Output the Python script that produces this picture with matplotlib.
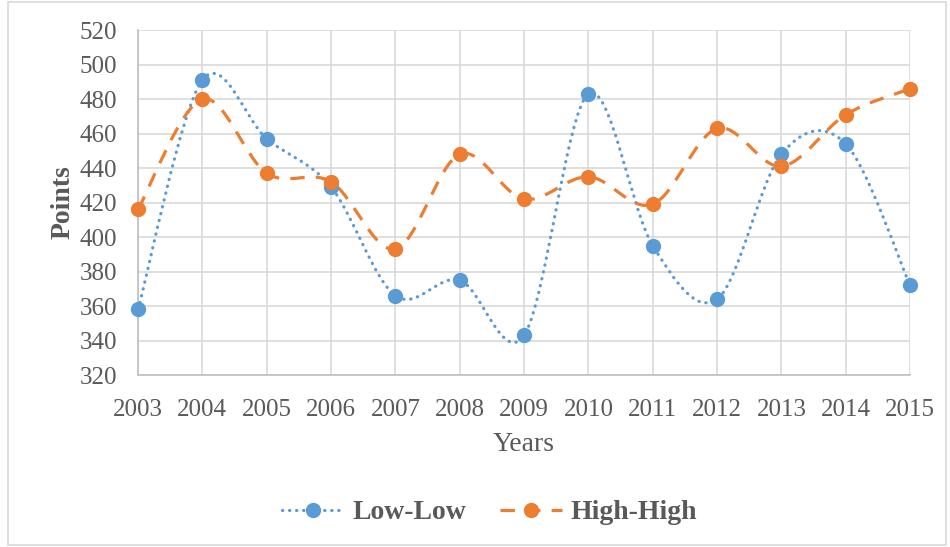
import numpy as np
import matplotlib
matplotlib.use("Agg")
import matplotlib.pyplot as plt
from matplotlib.path import Path
from matplotlib.patches import PathPatch, Rectangle
from matplotlib.lines import Line2D

years = [2003, 2004, 2005, 2006, 2007, 2008, 2009, 2010, 2011, 2012, 2013, 2014, 2015]
low_low = [358, 491, 457, 429, 366, 375, 343, 483, 395, 364, 448, 454, 372]
high_high = [416, 480, 437, 432, 393, 448, 422, 435, 419, 463, 441, 471, 486]

BLUE = "#5B9BD5"
ORANGE = "#ED7D31"
GRAY_TXT = "#595959"

plt.rcParams["font.family"] = ["Liberation Serif", "DejaVu Serif"]


def smooth_path(x, y, k=1 / 6):
    # cubic Bezier through every point, Catmull-Rom style control points
    x = np.asarray(x, float)
    y = np.asarray(y, float)
    n = len(x)
    verts = [(x[0], y[0])]
    codes = [Path.MOVETO]
    for i in range(n - 1):
        p0 = i - 1 if i > 0 else i
        p3 = i + 2 if i + 2 < n else i + 1
        c1 = (x[i] + (x[i + 1] - x[p0]) * k, y[i] + (y[i + 1] - y[p0]) * k)
        c2 = (x[i + 1] - (x[p3] - x[i]) * k, y[i + 1] - (y[p3] - y[i]) * k)
        verts += [c1, c2, (x[i + 1], y[i + 1])]
        codes += [Path.CURVE4] * 3
    return Path(verts, codes)


fig = plt.figure(figsize=(9.5, 5.47), dpi=100)
ax = fig.add_axes([0.1453, 0.3144, 0.8127, 0.6306])

# light border round the whole chart
fig.patches.append(Rectangle((0.008, 0.004), 0.988, 0.992, transform=fig.transFigure,
                             fill=False, edgecolor="#d9d9d9", linewidth=1.2))

ax.set_xlim(years[0], years[-1])
ax.set_ylim(320, 520)
ax.set_xticks(years)
ax.set_yticks(range(320, 521, 20))
ax.grid(True, color="#d9d9d9", linewidth=1.2)
ax.set_axisbelow(True)
for s in ["top", "right"]:
    ax.spines[s].set_visible(False)
for s in ["left", "bottom"]:
    ax.spines[s].set_color("#bfbfbf")
    ax.spines[s].set_linewidth(1.2)
ax.tick_params(length=0, labelsize=18, labelcolor=GRAY_TXT)
ax.tick_params(axis="x", pad=17)
ax.tick_params(axis="y", pad=15)

ax.add_patch(PathPatch(smooth_path(years, low_low), fill=False, edgecolor=BLUE,
                       linewidth=2.3, linestyle=(0, (0.1, 2.1)), capstyle="round",
                       clip_on=False))
ax.add_patch(PathPatch(smooth_path(years, high_high), fill=False, edgecolor=ORANGE,
                       linewidth=2.3, linestyle=(0, (4.5, 3.5)), capstyle="butt",
                       clip_on=False))
ax.plot(years, low_low, "o", color=BLUE, markersize=10, clip_on=False, zorder=3)
ax.plot(years, high_high, "o", color=ORANGE, markersize=10, clip_on=False, zorder=3)

ax.set_xlabel("Years", fontsize=20, color=GRAY_TXT, labelpad=8)
ax.set_ylabel("Points", fontsize=20, color=GRAY_TXT, fontweight="bold", labelpad=3)

handles = [
    Line2D([], [], color=BLUE, linewidth=2.3, linestyle=(0, (0.1, 2.1)),
           dash_capstyle="round", marker="o", markersize=10),
    Line2D([], [], color=ORANGE, linewidth=2.3, linestyle=(0, (4.5, 3.5)),
           marker="o", markersize=10),
]
leg = fig.legend(handles, ["Low-Low", "High-High"], loc="center", ncol=2,
                 bbox_to_anchor=(0.515, 0.063), frameon=False, handlelength=2.25,
                 columnspacing=1.2, handletextpad=0.3,
                 prop={"size": 20, "weight": "bold"})
for t in leg.get_texts():
    t.set_color(GRAY_TXT)

fig.savefig("out.png", dpi=100)
